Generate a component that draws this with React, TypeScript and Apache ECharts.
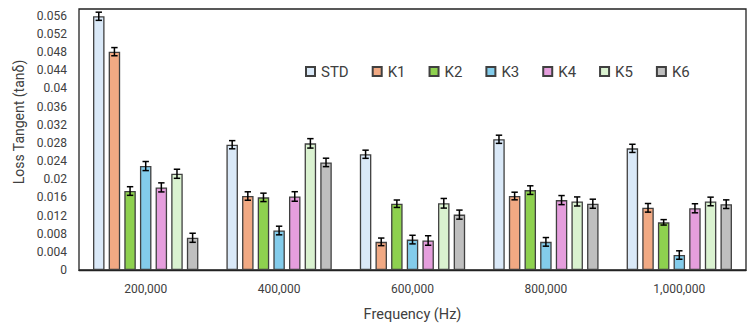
import React, { useEffect, useRef } from "react";
import * as echarts from "echarts";

// Frequencies (Hz) on the category axis
const categories = ["200,000", "400,000", "600,000", "800,000", "1,000,000"];

const seriesNames = ["STD", "K1", "K2", "K3", "K4", "K5", "K6"];

// Mean loss tangent per sample at each frequency
const stdValues = [0.0559, 0.0276, 0.0255, 0.0288, 0.0268];
const k1Values = [0.0481, 0.0163, 0.0062, 0.0163, 0.0137];
const k2Values = [0.0174, 0.016, 0.0146, 0.0176, 0.0105];
const k3Values = [0.0229, 0.0087, 0.0067, 0.0062, 0.0033];
const k4Values = [0.0182, 0.0162, 0.0065, 0.0154, 0.0136];
const k5Values = [0.0212, 0.0279, 0.0147, 0.0151, 0.0151];
const k6Values = [0.0071, 0.0237, 0.0122, 0.0146, 0.0145];

// Standard deviation (± error bar half-length)
const stdErr = [0.0009, 0.0009, 0.0009, 0.0009, 0.0009];
const k1Err = [0.0009, 0.00093, 0.00084, 0.00084, 0.00095];
const k2Err = [0.00095, 0.00093, 0.00082, 0.00095, 0.0006];
const k3Err = [0.001, 0.00095, 0.00095, 0.00095, 0.00093];
const k4Err = [0.001, 0.00105, 0.00105, 0.001, 0.001];
const k5Err = [0.001, 0.00104, 0.00106, 0.001, 0.00095];
const k6Err = [0.001, 0.00093, 0.001, 0.001, 0.00095];

const values = [stdValues, k1Values, k2Values, k3Values, k4Values, k5Values, k6Values];
const errors = [stdErr, k1Err, k2Err, k3Err, k4Err, k5Err, k6Err];

const colors = ["#DAE9F8", "#F1A983", "#8ED14F", "#83CCEB", "#E59EDD", "#DAF2D0", "#BFBFBF"];

const yTickStep = 0.004;
const yMax = 0.0575;

const FONT = "Roboto, 'Liberation Sans', sans-serif";
const TEXT = "#404040";

const BAR_WIDTH = 11.5;
const BAR_GAP = 0.36;

export default function App() {
  const ref = useRef<HTMLDivElement>(null);

  useEffect(() => {
    if (!ref.current) return;
    const chart = echarts.init(ref.current, undefined, { renderer: "svg" });
    const n = seriesNames.length;
    const step = BAR_WIDTH * (1 + BAR_GAP);

    const barSeries = seriesNames.map((name, i) => ({
      name,
      type: "bar",
      data: values[i],
      barWidth: BAR_WIDTH,
      barGap: `${BAR_GAP * 100}%`,
      itemStyle: { color: colors[i], borderColor: "#404040", borderWidth: 1.3 },
    }));

    const errorSeries = seriesNames.map((name, i) => ({
      name: name + "-err",
      type: "custom",
      z: 5,
      silent: true,
      data: values[i].map((v, j) => [j, v, errors[i][j]]),
      renderItem: (_params: any, api: any) => {
        const cat = api.value(0);
        const v = api.value(1);
        const e = api.value(2);
        const mid = api.coord([cat, v]);
        const hi = api.coord([cat, v + e]);
        const lo = api.coord([cat, v - e]);
        const x = mid[0] + (i - (n - 1) / 2) * step;
        const cap = 3.2;
        const style = { stroke: "#000", lineWidth: 1.5 };
        return {
          type: "group",
          children: [
            { type: "line", shape: { x1: x, y1: hi[1], x2: x, y2: lo[1] }, style },
            { type: "line", shape: { x1: x - cap, y1: hi[1], x2: x + cap, y2: hi[1] }, style },
            { type: "line", shape: { x1: x - cap, y1: lo[1], x2: x + cap, y2: lo[1] }, style },
          ],
        };
      },
    }));

    chart.setOption({
      animation: false,
      textStyle: { fontFamily: FONT },
      grid: {
        left: 79,
        right: 9,
        top: 9,
        bottom: 53,
        show: true,
        borderColor: "#222",
        borderWidth: 1.3,
        backgroundColor: "#fff",
      },
      legend: {
        data: seriesNames,
        left: 305,
        top: 64,
        padding: 0,
        itemWidth: 9,
        itemHeight: 9,
        itemGap: 23,
        icon: "rect",
        textStyle: { fontSize: 15, color: TEXT, fontFamily: FONT, padding: [0, 0, 0, 1] },
      },
      xAxis: {
        type: "category",
        data: categories,
        axisTick: { show: false },
        axisLine: { show: true, lineStyle: { color: "#222", width: 1.3 } },
        axisLabel: { color: TEXT, fontSize: 12, margin: 13, fontFamily: FONT },
      },
      yAxis: {
        type: "value",
        min: 0,
        max: yMax,
        interval: yTickStep,
        splitLine: { show: false },
        axisLine: { show: false },
        axisTick: { show: false },
        axisLabel: {
          color: TEXT,
          fontSize: 12,
          margin: 12,
          fontFamily: FONT,
          formatter: (v: number) => {
            const k = v / yTickStep;
            if (Math.abs(k - Math.round(k)) > 1e-6) return "";
            return String(Math.round(v * 1000) / 1000);
          },
        },
      },
      graphic: [
        {
          type: "text",
          x: 19,
          y: 122,
          rotation: Math.PI / 2,
          style: {
            text: "Loss Tangent (tanδ)",
            fontSize: 14,
            fontFamily: FONT,
            fill: TEXT,
            align: "center",
            verticalAlign: "middle",
          },
        },
        {
          type: "text",
          x: 412.5,
          y: 314,
          style: {
            text: "Frequency (Hz)",
            fontSize: 14.5,
            fontFamily: FONT,
            fill: TEXT,
            align: "center",
            verticalAlign: "middle",
          },
        },
      ],
      series: [...barSeries, ...errorSeries],
    });

    return () => chart.dispose();
  }, []);

  return <div ref={ref} style={{ width: 755, height: 323, position: "absolute", left: 0, top: 0 }} />;
}
